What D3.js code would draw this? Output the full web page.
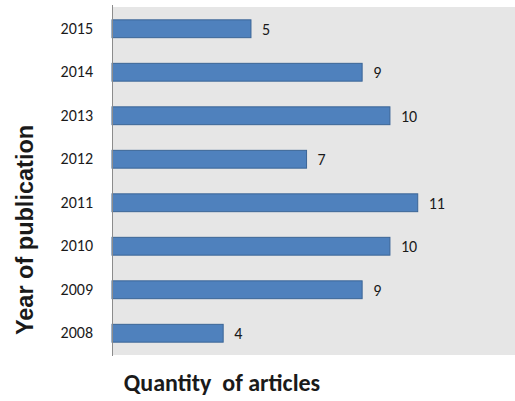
<!DOCTYPE html>
<html>
<head>
<meta charset="utf-8">
<script src="https://cdn.jsdelivr.net/npm/d3@7"></script>
<style>
  body { margin: 0; background: #fff; }
  text { font-family: Carlito, Lato, "Open Sans", sans-serif; fill: #1a1a1a; }
</style>
</head>
<body>
<div id="chart"></div>
<script>
/*
    DATA
*/
let years = ["2015", "2014", "2013", "2012", "2011", "2010", "2009", "2008"];
let articles = [5, 9, 10, 7, 11, 10, 9, 4];

/*
    LAYOUT
*/
let SIZE = { width: 515, height: 401 };
let PLOT = { left: 112, right: 515, top: 7, bot: 355 };

var svg = d3.select("#chart")
    .append("svg")
    .attr("width", SIZE.width)
    .attr("height", SIZE.height);

var x = d3.scaleLinear()
    .domain([0, 14.5])
    .range([PLOT.left, PLOT.right]);

var y = d3.scaleBand()
    .domain(years)
    .range([PLOT.top, PLOT.bot])
    .paddingInner(0.59)
    .paddingOuter(0.295);

// grey plot area
svg.append("rect")
    .attr("x", PLOT.left)
    .attr("y", PLOT.top)
    .attr("width", PLOT.right - PLOT.left)
    .attr("height", PLOT.bot - PLOT.top)
    .attr("fill", "#e6e6e6");

// bars
svg.selectAll("rect.bar")
    .data(articles)
    .enter()
    .append("rect")
    .attr("class", "bar")
    .attr("x", x(0))
    .attr("y", (d, i) => y(years[i]))
    .attr("width", d => x(d) - x(0))
    .attr("height", y.bandwidth())
    .attr("fill", "#4f81bd")
    .attr("stroke", "#3b6596")
    .attr("stroke-width", 1);

// value labels
svg.selectAll("text.val")
    .data(articles)
    .enter()
    .append("text")
    .attr("class", "val")
    .attr("x", d => x(d) + 11)
    .attr("y", (d, i) => y(years[i]) + y.bandwidth() / 2)
    .attr("dy", "0.36em")
    .style("font-size", "16px")
    .text(d => d);

// y axis (line + labels, no ticks)
var yAxis = svg.append("g")
    .attr("transform", `translate(${PLOT.left},0)`)
    .call(d3.axisLeft(y).tickSize(0).tickPadding(19));
yAxis.select(".domain")
    .attr("d", `M0.5,${PLOT.top - 2}V${PLOT.bot + 1}`)
    .attr("stroke", "#8c8c8c");
yAxis.selectAll("text")
    .style("font-size", "16px")
    .style("font-family", "Carlito, Lato, 'Open Sans', sans-serif")
    .attr("fill", "#1a1a1a");

// axis titles
svg.append("text")
    .attr("transform", "translate(33,230) rotate(-90)")
    .attr("text-anchor", "middle")
    .style("font-family", "'Liberation Sans', Arial, sans-serif")
    .style("font-weight", "bold")
    .style("font-size", "23.5px")
    .text("Year of publication");

svg.append("text")
    .attr("x", 222)
    .attr("y", 391)
    .attr("text-anchor", "middle")
    .style("font-weight", "bold")
    .style("font-size", "24px")
    .style("white-space", "pre")
    .attr("xml:space", "preserve")
    .text("Quantity  of articles");
</script>
</body>
</html>
